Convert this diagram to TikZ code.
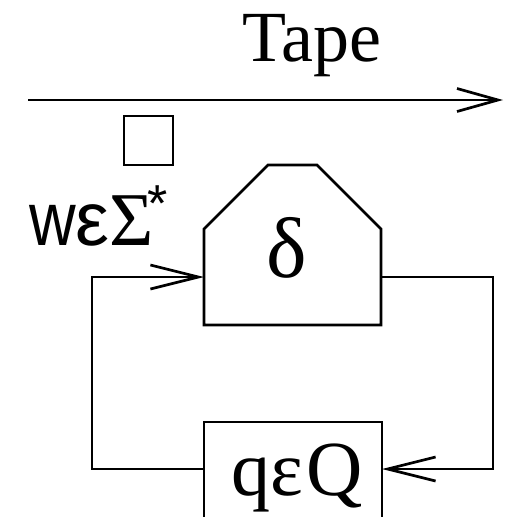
\documentclass[tikz,border=0pt]{standalone}
\usepackage{fontspec}
\setmainfont{Liberation Serif}
\newfontfamily\sansf{Liberation Sans}
\usetikzlibrary{arrows.meta}
\tikzset{
  ln/.style={line width=2.7pt},
  barb/.style={-{Straight Barb[length=48pt,width=24pt]}},
  bigtext/.style={font=\fontsize{72}{80}\selectfont, inner sep=0pt, anchor=base}
}
\begin{document}
\begin{tikzpicture}[x=1pt,y=-1pt]
\useasboundingbox (0,0) rectangle (506,517);
\clip (0,0) rectangle (506,517);
% tape
\node[bigtext] (tape) at (312,61) {Tape};
\coordinate (tl) at (28,100);
\coordinate (tr) at (503,100);
\draw[ln,-{Straight Barb[length=41pt,width=23pt]}] (tl) -- (tr);
\node[ln,draw,minimum size=49pt,inner sep=0pt] (cell) at (148.5,140.5) {};
% input label
\node[bigtext,font=\fontsize{76}{80}\selectfont,anchor=base west] (w) at (29,245) {{\sansf\scalebox{0.85}[1]{w}ε}Σ\kern-6pt\raisebox{24pt}{\fontsize{52}{52}\selectfont\sansf *}};
% delta box
\draw[ln] (204,325) -- (204,229) -- (268,165) -- (317,165) -- (381,229) -- (381,325) -- cycle;
\node[bigtext,font=\fontsize{86}{90}\selectfont] (delta) at (287,277) {δ};
\coordinate (din) at (204,277);
\coordinate (dout) at (381,277);
% state box
\node[ln,draw,minimum width=178pt,minimum height=116pt,inner sep=0pt] (qbox) at (293,480) {};
\node[bigtext,font=\fontsize{78}{86}\selectfont] (q) at (297,495) {qε\kern3pt Q};
\coordinate (qin) at (382,469);
\coordinate (qout) at (204,469);
% loop
\draw[ln,barb] (qout) -- (92,469) -- (92,277) -- (din);
\draw[ln,barb] (dout) -- (493,277) -- (493,469) -- (qin);
\end{tikzpicture}
\end{document}
